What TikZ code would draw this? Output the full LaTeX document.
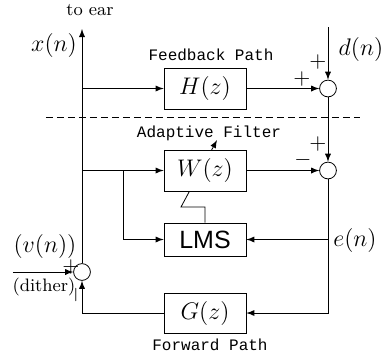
\documentclass[tikz,border=0pt]{standalone}
\usepackage{amsmath}
\usepackage{fontspec}
\setsansfont{Liberation Sans}
\setmonofont{Liberation Mono}
\usepackage{tikz}
\usetikzlibrary{arrows}

\begin{document}
\begin{tikzpicture}[x=0.5pt,y=-0.5pt,>=latex,
  block/.style={draw,fill=white,minimum width=41pt,minimum height=20.5pt,
    inner sep=0pt,font=\fontsize{12.5}{14}\selectfont},
  sum/.style={draw,circle,minimum size=8.4pt,inner sep=0pt},
  sig/.style={inner sep=0pt,font=\fontsize{11.5}{13}\selectfont},
  note/.style={inner sep=0pt,font=\fontsize{9}{11}\selectfont},
  pathlabel/.style={inner sep=0pt,font=\ttfamily\fontsize{8}{10}\selectfont},
  sgn/.style={inner sep=0pt,font=\fontsize{11}{12}\selectfont}]
  \useasboundingbox (0,0) rectangle (387,361);

  \node[block] (h) at (205,88.5) {$H(z)$};
  \node[block,minimum height=16.5pt,font=\sffamily\fontsize{12.5}{14}\selectfont]
    (lms) at (205,239.5) {LMS};
  \draw[->] (lms.north) |- (181,207) coordinate (adj) -- (217,140) coordinate (adjtip);
  \node[block] (w) at (205,170.5) {$W(z)$};
  \node[block,minimum height=20pt] (g) at (205,313) {$G(z)$};

  \node[sum] (s1) at (328,88.5) {};
  \node[sum] (s2) at (328,170.5) {};
  \node[sum] (s3) at (82,272) {};

  \coordinate (ear) at (82,29);
  \coordinate (dn) at (328,27);
  \coordinate (vn) at (13,272);
  \coordinate (tap) at (123,170.5);
  \coordinate (cutl) at (46,117);
  \coordinate (cutr) at (360,117);

  \draw[->] (s3.north) -- (ear);
  \draw[->] (h.west -| s3) -- (h.west);
  \draw[->] (w.west -| s3) -- (w.west);
  \draw[->] (tap) |- (lms.west);
  \draw[->] (h.east) -- (s1.west);
  \draw[->] (dn) -- (s1.north);
  \draw[->] (s1.south) -- (s2.north);
  \draw[->] (w.east) -- (s2.west);
  \draw[->] (s2.south) |- (g.east);
  \draw[->] (s2 |- lms.east) -- (lms.east);
  \draw[->] (g.west) -| (s3.south);
  \draw[->] (vn) -- (s3.west);
  \draw[dash pattern=on 3.5pt off 2pt] (cutl) -- (cutr);

  \node[note] (toear) at (90,10) {to ear};
  \node[sig] (xn) at (54,45) {$x(n)$};
  \node[sig] (dlbl) at (361,49) {$d(n)$};
  \node[sig] (en) at (355,240) {$e(n)$};
  \node[sig] (vlbl) at (45,246) {$(v(n))$};
  \node[note] (dither) at (44,287) {(dither)};
  \node[pathlabel] (fb) at (211,55) {Feedback Path};
  \node[pathlabel] (af) at (209,133) {Adaptive Filter};
  \node[pathlabel] (fw) at (210,345) {Forward Path};

  \node[sgn] (p1) at (318,62) {$+$};
  \node[sgn] (p2) at (302,79) {$+$};
  \node[sgn] (p3) at (318,144) {$+$};
  \node[sgn] (m1) at (303,160) {$-$};
  \node[sgn] (p4) at (71,267) {$+$};
  \node[sgn,rotate=90] (m2) at (76,295) {$-$};
\end{tikzpicture}
\end{document}
